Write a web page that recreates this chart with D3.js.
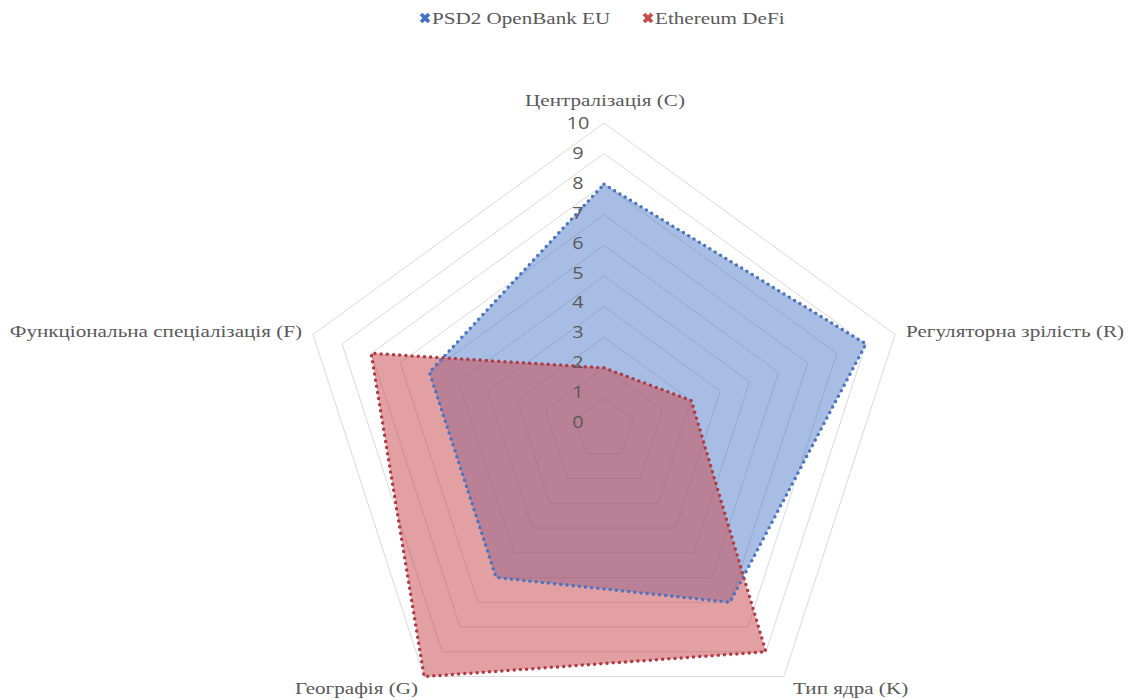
<!DOCTYPE html>
<html><head><meta charset="utf-8">
<script src="https://cdn.jsdelivr.net/npm/d3@7"></script>
<style>body{margin:0;background:#fff}svg{display:block}</style>
</head><body><svg id="c" width="1131" height="700"></svg>
<script>
const categories = ["Централізація (C)", "Регуляторна зрілість (R)", "Тип ядра (K)", "Географія (G)", "Функціональна спеціалізація (F)"];
const seriesNames = ["PSD2 OpenBank EU", "Ethereum DeFi"];
const psd2Values = [8, 9, 7, 6, 6];
const defiValues = [2, 3, 9, 10, 8];
const tickValues = [0,1,2,3,4,5,6,7,8,9,10];

const svg = d3.select("#c");
const cx = 604, cy = 429, R = 306;
const SX = 1.28;
const serif = "'Liberation Serif', 'Times New Roman', 'DejaVu Serif', serif";
const r = d3.scaleLinear().domain([0,10]).range([0,R]);
const tickY = d3.scaleLinear().domain([0,10]).range([422,123]);
const ang = d3.scalePoint().domain(categories).range([0, 2*Math.PI*4/5]);
const pt = (c, v) => { const a = ang(c); return [cx + r(v)*Math.sin(a), cy - r(v)*Math.cos(a)]; };

// grid
const g = svg.append("g");
tickValues.filter(t=>t>0).forEach(t=>{
  g.append("path").attr("d", d3.line()(categories.map(c=>pt(c,t))) + "Z")
   .attr("fill","none").attr("stroke","#d9d9d9").attr("stroke-width",1);
});

const colors = ["#4472C4", "#C0504D"];
const dotColors = ["#4a74c0", "#b03a44"];
const fills = [{c:"#4472C4",o:0.47},{c:"#C9494E",o:0.52}];
[psd2Values, defiValues].forEach((vals,i)=>{
  const pts = categories.map((c,j)=>pt(c, vals[j]));
  svg.append("path").attr("d", d3.line()(pts)+"Z")
    .attr("fill", fills[i].c).attr("fill-opacity", fills[i].o)
    .attr("stroke", "none");
});
[psd2Values, defiValues].forEach((vals,i)=>{
  const pts = categories.map((c,j)=>pt(c, vals[j]));
  svg.append("path").attr("d", d3.line()(pts)+"Z")
    .attr("fill", "none").attr("stroke", dotColors[i]).attr("stroke-width", 3.5)
    .attr("stroke-linecap","round").attr("stroke-dasharray","0 6.2");
});

// tick labels
svg.append("g").selectAll("text").data(tickValues).join("text")
  .attr("transform", d => `translate(${cx-26},${tickY(d)}) scale(${SX},1)`)
  .attr("text-anchor","middle").attr("dominant-baseline","central")
  .attr("font-family","'Open Sans', 'DejaVu Sans', sans-serif").attr("font-size",15.5)
  .attr("fill","#595959").text(d=>d);

// category labels
const labelPos = [
  {x: 605, y: 106, a: "middle"},
  {x: 906, y: 337, a: "start"},
  {x: 793, y: 694, a: "start"},
  {x: 418, y: 694, a: "end"},
  {x: 302, y: 337, a: "end"}
];
svg.append("g").selectAll("text").data(categories).join("text")
  .attr("transform",(d,i)=>`translate(${labelPos[i].x},${labelPos[i].y}) scale(${SX},1)`)
  .attr("text-anchor",(d,i)=>labelPos[i].a)
  .attr("font-family",serif).attr("font-size",16.5)
  .attr("fill","#595959").text(d=>d);

// legend
const legX = [425, 648];
seriesNames.forEach((n,i)=>{
  svg.append("path").attr("d", d3.symbol(d3.symbolCross, 70)())
    .attr("transform", `translate(${legX[i]},18) rotate(45)`).attr("fill", colors[i]);
  svg.append("text").attr("transform", `translate(${legX[i]+7},24) scale(${SX},1)`)
    .attr("font-family",serif).attr("font-size",16.5)
    .attr("fill","#595959").text(n);
});
</script></body></html>
